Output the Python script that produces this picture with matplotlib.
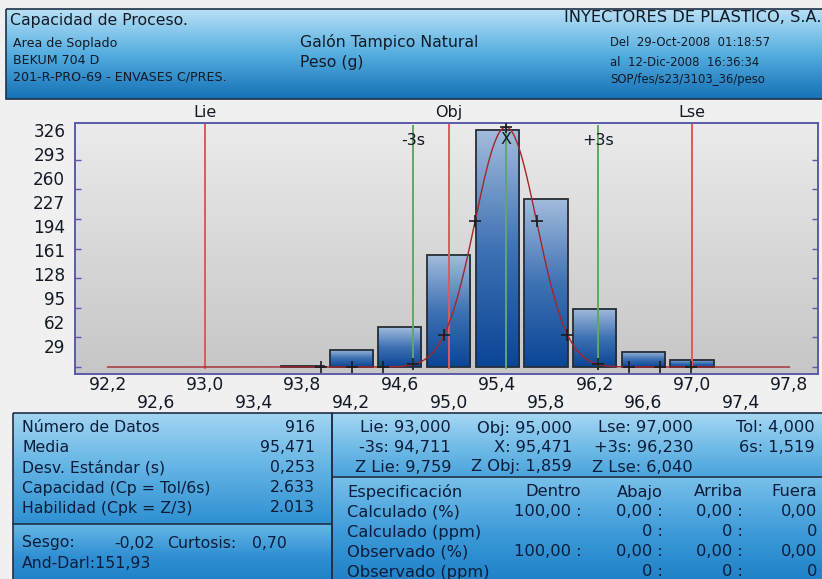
import numpy as np
import matplotlib
matplotlib.use("Agg")
import matplotlib.pyplot as plt
from matplotlib.colors import LinearSegmentedColormap
from matplotlib.patches import Rectangle

W, H, DPI = 822, 579, 100

# ---- histogram data -------------------------------------------------------
bin_centers = [93.8, 94.2, 94.6, 95.0, 95.4, 95.8, 96.2, 96.6, 97.0]
counts = [1, 24, 55, 154, 326, 231, 80, 21, 10]

mean = 95.471
sdev = 0.253
curve_peak = 330
curve_span = [92.2, 97.8]

lie, obj, lse = 93.0, 95.0, 97.0
minus3s, plus3s = 94.711, 96.230

ytick_values = [29, 62, 95, 128, 161, 194, 227, 260, 293, 326]
xticks_row1 = [92.2, 93.0, 93.8, 94.6, 95.4, 96.2, 97.0, 97.8]
xticks_row2 = [92.6, 93.4, 94.2, 95.0, 95.8, 96.6, 97.4]

# ---- header texts ---------------------------------------------------------
header_title = "Capacidad de Proceso."
header_left = ["Area de Soplado", "BEKUM 704 D", "201-R-PRO-69 - ENVASES C/PRES."]
header_mid = ["Galón Tampico Natural", "Peso (g)"]
header_company = "INYECTORES DE PLASTICO, S.A."
header_right = ["Del  29-Oct-2008  01:18:57", "al  12-Dic-2008  16:36:34",
                "SOP/fes/s23/3103_36/peso"]

# ---- statistics tables ----------------------------------------------------
stats_labels = ["Número de Datos", "Media", "Desv. Estándar (s)",
                "Capacidad (Cp = Tol/6s)", "Habilidad (Cpk = Z/3)"]
stats_values = ["916", "95,471", "0,253", "2.633", "2.013"]
shape_line1 = ["Sesgo:", "-0,02", "Curtosis:", "0,70"]
shape_line2 = "And-Darl:151,93"

limit_rows = [["Lie: 93,000", "Obj: 95,000", "Lse: 97,000", "Tol: 4,000"],
              ["-3s: 94,711", "X: 95,471", "+3s: 96,230", "6s: 1,519"],
              ["Z Lie: 9,759", "Z Obj: 1,859", "Z Lse: 6,040", ""]]
spec_header = ["Especificación", "Dentro", "Abajo", "Arriba", "Fuera"]
spec_rows = [["Calculado (%)", "100,00 :", "0,00 :", "0,00 :", "0,00"],
             ["Calculado (ppm)", "", "0 :", "0 :", "0"],
             ["Observado (%)", "100,00 :", "0,00 :", "0,00 :", "0,00"],
             ["Observado (ppm)", "", "0 :", "0 :", "0"]]

plt.rcParams["font.family"] = ["DejaVu Sans"]
TXT = "#111a26"
NAVY = "#0b1d3a"

fig = plt.figure(figsize=(W / DPI, H / DPI), dpi=DPI, facecolor="#f0f0f0")

# background layer in pixel coordinates
bg = fig.add_axes([0, 0, 1, 1], zorder=0)
bg.set_xlim(0, W)
bg.set_ylim(H, 0)
bg.axis("off")


def vgrad(ax, x0, y0, x1, y1, colors, z=1):
    cmap = LinearSegmentedColormap.from_list("g", colors)
    g = np.linspace(0, 1, 256).reshape(-1, 1)
    ax.imshow(g, extent=(x0, x1, y1, y0), cmap=cmap, aspect="auto",
              origin="upper", zorder=z, interpolation="bilinear")


def box(ax, x0, y0, x1, y1, z=3):
    ax.add_patch(Rectangle((x0, y0), x1 - x0, y1 - y0, fill=False,
                           ec="#1f3046", lw=1.2, zorder=z))


# header panel
vgrad(bg, 6, 9, 830, 99, ["#b8e0f6", "#55aee0", "#1570b6"])
box(bg, 6, 9, 830, 99)
bg.text(10, 20, header_title, fontsize=11.3, color=TXT, va="center", zorder=5)
for txt, y in zip(header_left, [43, 61, 77]):
    bg.text(13, y, txt, fontsize=9.1, color=TXT, va="center", zorder=5)
for txt, y in zip(header_mid, [42, 62]):
    bg.text(300, y, txt, fontsize=11.3, color=TXT, va="center", zorder=5)
bg.text(821, 18, header_company, fontsize=11.7, color=TXT, va="center",
        ha="right", zorder=5)
for txt, y in zip(header_right, [43, 62, 79]):
    bg.text(610, y, txt, fontsize=8.4, color=TXT, va="center", zorder=5)

# bottom panels
vgrad(bg, 13, 413, 332, 524, ["#a2d5f2", "#62b3e4", "#2e90d2"])
vgrad(bg, 13, 524, 332, 590, ["#66b7e6", "#2f8fd2", "#1a7cc4"])
vgrad(bg, 332, 413, 830, 477, ["#a6d7f3", "#74bde8", "#4aa3dc"])
vgrad(bg, 332, 477, 830, 590, ["#78c0ea", "#3c9ad8", "#1a7cc4"])
box(bg, 13, 413, 332, 590)
box(bg, 332, 413, 830, 590)
bg.plot([13, 332], [524, 524], color="#1f3046", lw=1.2, zorder=4)
bg.plot([332, 830], [477, 477], color="#1f3046", lw=1.2, zorder=4)

FS_L = 11.3
for lab, val, y in zip(stats_labels, stats_values, [428, 448, 468, 488, 508]):
    bg.text(22, y, lab, fontsize=FS_L, color=NAVY, va="center", zorder=5)
    bg.text(315, y, val, fontsize=FS_L, color=NAVY, va="center", ha="right", zorder=5)
for txt, x, ha in zip(shape_line1, [22, 155, 167, 287], ["left", "right", "left", "right"]):
    bg.text(x, 543, txt, fontsize=FS_L, color=NAVY, va="center", ha=ha, zorder=5)
bg.text(22, 564, shape_line2, fontsize=FS_L, color=NAVY, va="center", zorder=5)

FS_R = 11.7
for row, y in zip(limit_rows, [428, 448, 467]):
    for txt, x in zip(row, [451, 572, 693, 815]):
        bg.text(x, y, txt, fontsize=FS_R, color=NAVY, va="center", ha="right", zorder=5)

spec_x = [581, 663, 743, 817]
for row, y in zip([spec_header] + spec_rows, [492, 512, 532, 552, 572]):
    bg.text(347, y, row[0], fontsize=FS_R, color=NAVY, va="center", zorder=5)
    for txt, x in zip(row[1:], spec_x):
        bg.text(x, y, txt, fontsize=FS_R, color=NAVY, va="center", ha="right", zorder=5)

bg.set_xlim(0, W)
bg.set_ylim(H, 0)

# ---- histogram axes -------------------------------------------------------
L, R, T, B = 75, 818, 123, 374
ax = fig.add_axes([L / W, (H - B) / H, (R - L) / W, (B - T) / H], zorder=2)
xlim = (91.932, 98.035)
ylim = (-9.6, 335.6)

vgrad(ax, xlim[0], ylim[1], xlim[1], ylim[0], ["#ebebeb", "#d8d8d8", "#c6c6c6"], z=0)

bar_w = 0.355
bar_cmap = LinearSegmentedColormap.from_list("bar", ["#0a4596", "#3f72b4", "#a3bcdc"])
grad = np.linspace(0, 1, 256).reshape(-1, 1)
for c, h in zip(bin_centers, counts):
    ax.imshow(grad, extent=(c - bar_w / 2, c + bar_w / 2, 0, h), cmap=bar_cmap,
              aspect="auto", origin="lower", zorder=2, interpolation="bilinear")
    ax.add_patch(Rectangle((c - bar_w / 2, 0), bar_w, h, fill=False,
                           ec="#262d36", lw=1.3, zorder=3))

# specification and control lines
for x in (lie, obj, lse):
    ax.plot([x, x], [-1.5, 333], color="#e0585a", lw=1.4, zorder=4)
for x in (minus3s, mean, plus3s):
    ax.plot([x, x], [-1.5, 332], color="#5fa864", lw=1.4, zorder=4)

# fitted normal curve with sigma markers
xc = np.linspace(curve_span[0], curve_span[1], 600)
yc = curve_peak * np.exp(-0.5 * ((xc - mean) / sdev) ** 2)
ax.plot(xc, yc, color="#a3262a", lw=1.0, zorder=5)
xm = mean + sdev * np.arange(-6, 7)
ym = curve_peak * np.exp(-0.5 * ((xm - mean) / sdev) ** 2)
ax.plot(xm, ym, ls="none", marker="+", ms=8, mew=1.2, color="#1c1c1c", zorder=6)

ax.text(minus3s, 311, "-3s", ha="center", va="center", fontsize=11.5, color=TXT, zorder=7)
ax.text(plus3s, 311, "+3s", ha="center", va="center", fontsize=11.5, color=TXT, zorder=7)
ax.text(mean, 313, "X", ha="center", va="center", fontsize=11.5, color=TXT, zorder=7)

xt = ax.get_xaxis_transform()
for x, lab in zip((lie, obj, lse), ("Lie", "Obj", "Lse")):
    ax.text(x, 1.04, lab, transform=xt, ha="center", va="center", fontsize=11.5, color=TXT)
for x in xticks_row1:
    ax.text(x, -0.044, f"{x:.1f}".replace(".", ","), transform=xt, ha="center",
            va="center", fontsize=12.4, color=TXT)
for x in xticks_row2:
    ax.text(x, -0.116, f"{x:.1f}".replace(".", ","), transform=xt, ha="center",
            va="center", fontsize=12.4, color=TXT)

ax.set_xlim(*xlim)
ax.set_ylim(*ylim)
ax.set_xticks([])
ax.set_yticks(ytick_values)
ax.set_yticklabels([str(v) for v in ytick_values], fontsize=12.2, color=TXT)
ax.set_yticks(np.linspace(0, max(counts), 9), minor=True)
ax.tick_params(axis="y", which="major", length=0, pad=7)
ax.tick_params(axis="y", which="minor", length=4, direction="in", left=True,
               right=True, color="#5a5aa8", width=1)
for s in ax.spines.values():
    s.set_color("#5a5aa8")
    s.set_linewidth(1.4)

fig.savefig("out.png", dpi=DPI, facecolor=fig.get_facecolor())
